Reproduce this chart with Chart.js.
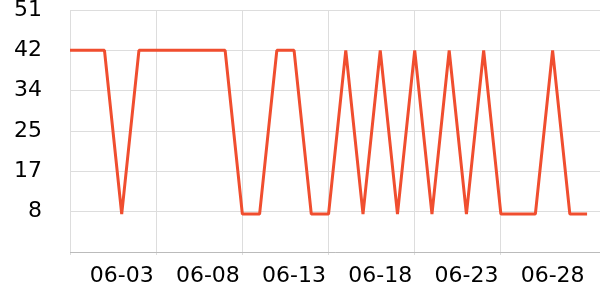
<!DOCTYPE html>
<html><head><meta charset="utf-8">
<script src="https://cdn.jsdelivr.net/npm/chart.js@4"></script>
<style>html,body{margin:0;padding:0;background:#fff}#wrap{width:600px;height:300px;position:relative}</style>
</head><body><div id="wrap"><canvas id="c"></canvas></div>
<script>
const dates = ['05-31','06-01','06-02','06-03','06-04','06-05','06-06','06-07','06-08','06-09','06-10',
  '06-11','06-12','06-13','06-14','06-15','06-16','06-17','06-18','06-19','06-20',
  '06-21','06-22','06-23','06-24','06-25','06-26','06-27','06-28','06-29','06-30'];
const values = [42.5,42.5,42.5,8,42.5,42.5,42.5,42.5,42.5,42.5,
  8,8,42.5,42.5,8,8,42.5,8,42.5,8,
  42.5,8,42.5,8,42.5,8,8,8,42.5,8,8];
const xTickLabels = ['06-03','06-08','06-13','06-18','06-23','06-28'];
const xGridDates = ['05-31','06-05','06-10','06-15','06-20','06-25'];
const yTickValues = [0,8.5,17,25.5,34,42.5,51];
const yTickLabels = ['','8','17','25','34','42','51'];

const FONT = {family:'"DejaVu Sans"', size:22, lineHeight:0.9};
const GRID = '#dddddd';

new Chart(document.getElementById('c'), {
  type:'line',
  data:{datasets:[{
    data: values.map((v,i)=>({x:i,y:v})),
    borderColor:'#f04e2f', borderWidth:3, borderJoinStyle:'bevel', pointRadius:0, tension:0, fill:false
  }]},
  options:{
    responsive:true, maintainAspectRatio:false, animation:false,
    layout:{padding:{left:14,right:0,top:10,bottom:12}},
    plugins:{legend:{display:false},tooltip:{enabled:false}},
    scales:{
      x:{type:'linear', min:0, max:dates.length-0.25,
        afterFit:(s)=>{ s.height = 36; s.paddingLeft = 0; s.paddingRight = 0; },
        grid:{color:(c)=> (c.tick && xGridDates.includes(dates[c.tick.value])) ? GRID : 'rgba(0,0,0,0)', tickLength:3},
        border:{color:'#bbbbbb', width:1},
        ticks:{stepSize:1, maxTicksLimit:100, autoSkip:false, includeBounds:false, maxRotation:0, padding:11,
          color:'#000', font:FONT,
          callback:(v)=> xTickLabels.includes(dates[v]) ? dates[v] : ''}
      },
      y:{min:0, max:51,
        afterBuildTicks:(s)=>{ s.ticks = yTickValues.map(v=>({value:v})); },
        afterFit:(s)=>{ s.width = 56; s.paddingTop = 0; s.paddingBottom = 0; },
        grid:{color:GRID, drawTicks:false},
        border:{display:false},
        ticks:{padding:28, color:'#000', font:FONT,
          callback:(v)=> yTickLabels[yTickValues.indexOf(v)] ?? ''}
      }
    }
  }
});
</script></body></html>
